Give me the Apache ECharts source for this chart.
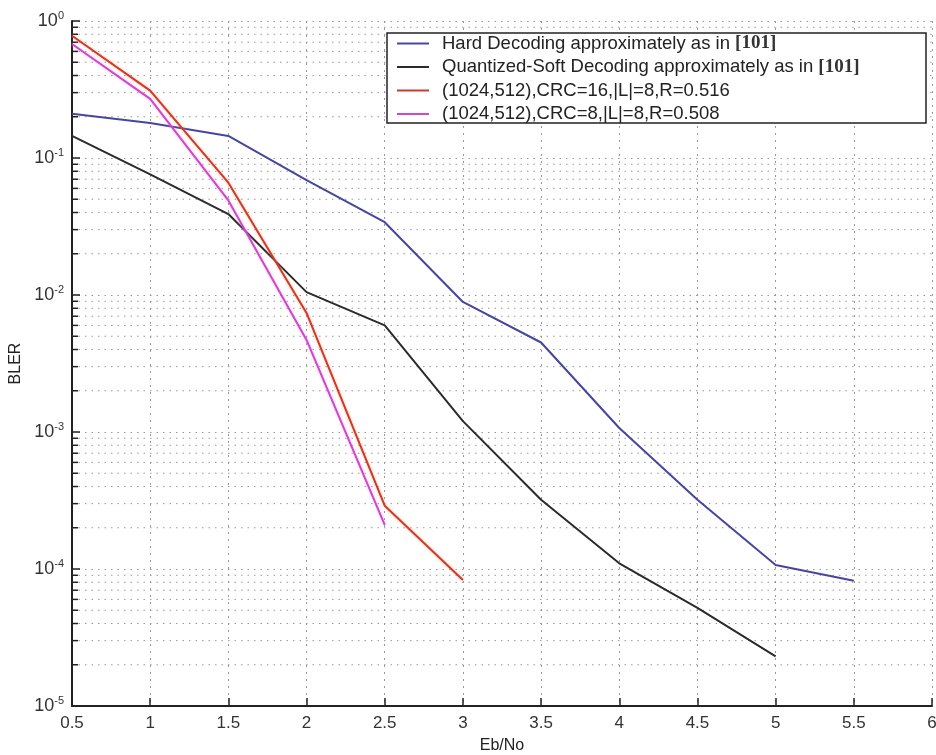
<!DOCTYPE html>
<html>
<head>
<meta charset="utf-8">
<script src="https://cdn.jsdelivr.net/npm/echarts@6/dist/echarts.min.js"></script>
<style>
  html, body { margin: 0; padding: 0; background: #fff; }
  #chart { width: 936px; height: 755px; }
</style>
</head>
<body>
<div id="chart"></div>
<script>
// Eb/No points (dB)
const ebno = [0.5, 1, 1.5, 2, 2.5, 3, 3.5, 4, 4.5, 5, 5.5];

// BLER values
const hardDecoding = [0.21, 0.18, 0.145, 0.069, 0.034, 0.0089, 0.0045, 0.00107, 0.00032, 0.000107, 0.000082];
const softDecoding = [0.145, 0.076, 0.039, 0.0105, 0.006, 0.0012, 0.00032, 0.00011, 0.000052, 0.000023];
const crc16 = [0.78, 0.31, 0.066, 0.0074, 0.00029, 0.000083];
const crc8 = [0.68, 0.27, 0.049, 0.0047, 0.00021];

const seriesNames = [
  'Hard Decoding approximately as in [101]',
  'Quantized-Soft Decoding approximately as in [101]',
  '(1024,512),CRC=16,|L|=8,R=0.516',
  '(1024,512),CRC=8,|L|=8,R=0.508'
];
const seriesColors = ['#46469e', '#2b2b2b', '#d0392e', '#cc48cc'];

const pairs = (ys) => ys.map((y, i) => [ebno[i], y]);

// minor log grid positions (2..9 x 10^e)
const minorVals = [];
for (let e = -5; e < 0; e++) {
  for (let m = 2; m <= 9; m++) minorVals.push(m * Math.pow(10, e));
}

const font = 'Liberation Sans, Arial, sans-serif';
const chart = echarts.init(document.getElementById('chart'));

const lineSeries = (i, ys, extra) => ({
  name: seriesNames[i],
  type: 'line',
  data: pairs(ys),
  showSymbol: false,
  z: 5,
  itemStyle: { color: seriesColors[i] },
  lineStyle: Object.assign({ width: 2, color: seriesColors[i] }, extra || {})
});

const option = {
  animation: false,
  grid: { left: 72, right: 4, top: 21, bottom: 49, outerBoundsMode: 'none', containLabel: false },
  graphic: [{
    type: 'rect',
    z: 10,
    shape: { x: 387, y: 33, width: 539, height: 90 },
    style: { fill: '#fff', stroke: '#222', lineWidth: 1.5 }
  }],
  legend: {
    z: 20,
    orient: 'vertical',
    left: 397,
    top: 33,
    padding: 0,
    itemGap: 2.5,
    itemWidth: 32,
    itemHeight: 2,
    icon: 'rect',
    data: seriesNames,
    formatter: (name) => name.replace('[101]', '{r|[101]}'),
    textStyle: {
      fontFamily: font,
      fontSize: 18.5,
      lineHeight: 21,
      padding: [0, 0, 0, 8],
      color: '#222',
      rich: {
        r: { fontFamily: 'Liberation Serif, DejaVu Serif, serif', fontWeight: 'bold', fontSize: 19, lineHeight: 21, color: '#333' }
      }
    }
  },
  xAxis: {
    type: 'value',
    min: 0.5,
    max: 6,
    interval: 0.5,
    name: 'Eb/No',
    nameLocation: 'middle',
    nameGap: 32,
    nameTextStyle: { fontFamily: font, fontSize: 16, color: '#222' },
    axisLine: { onZero: false, lineStyle: { color: '#222', width: 2 } },
    axisTick: { inside: true, length: 8, lineStyle: { color: '#222', width: 1.5 } },
    axisLabel: { margin: 9, fontFamily: font, fontSize: 17, color: '#333' },
    splitLine: { show: true, lineStyle: { color: '#999', type: [2, 5], width: 1 } }
  },
  yAxis: {
    type: 'log',
    logBase: 10,
    min: 1e-5,
    max: 1,
    name: 'BLER',
    nameLocation: 'middle',
    nameGap: 40,
    nameTextStyle: { fontFamily: font, fontSize: 16, color: '#222' },
    axisLine: { lineStyle: { color: '#222', width: 2 } },
    axisTick: { inside: true, length: 8, lineStyle: { color: '#222', width: 1.5 } },
    axisLabel: {
      margin: 8,
      formatter: (v) => '{b|10}{s|' + Math.round(Math.log10(v)) + '}',
      rich: {
        b: { fontFamily: font, fontSize: 18, color: '#333' },
        s: { fontFamily: font, fontSize: 11, color: '#333', padding: [0, 0, 11, 0] }
      }
    },
    splitLine: { show: true, lineStyle: { color: '#999', type: [1.5, 5], width: 1 } }
  },
  series: [
    {
      // minor log grid lines and minor ticks
      type: 'custom',
      silent: true,
      z: 1,
      data: minorVals.map(v => [0.5, v]),
      encode: { x: 0, y: 1 },
      renderItem: (params, api) => {
        const v = api.value(1);
        const p0 = api.coord([0.5, v]);
        const p1 = api.coord([6, v]);
        return {
          type: 'group',
          children: [
            {
              type: 'line',
              shape: { x1: p0[0], y1: p0[1], x2: p1[0], y2: p1[1] },
              style: { stroke: '#999', lineWidth: 1, lineDash: [1.5, 5] }
            },
            {
              type: 'line',
              shape: { x1: p0[0], y1: p0[1], x2: p0[0] + 6, y2: p0[1] },
              style: { stroke: '#222', lineWidth: 1.5 }
            }
          ]
        };
      }
    },
    lineSeries(0, hardDecoding),
    lineSeries(1, softDecoding),
    lineSeries(2, crc16, { shadowColor: 'rgba(255,150,90,0.6)', shadowBlur: 3 }),
    lineSeries(3, crc8, { shadowColor: 'rgba(255,150,230,0.6)', shadowBlur: 3 })
  ]
};

chart.setOption(option);
</script>
</body>
</html>
